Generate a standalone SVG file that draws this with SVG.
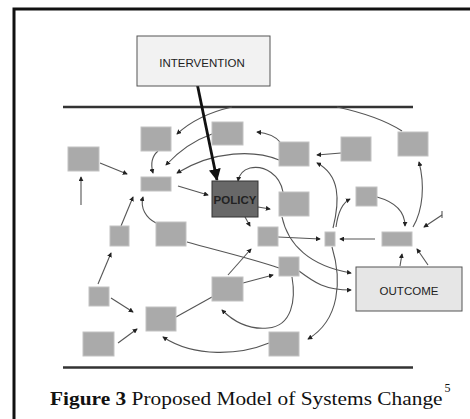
<svg xmlns="http://www.w3.org/2000/svg" width="470" height="419" viewBox="0 0 470 419">
<defs>
<style>
.box{fill:#aaaaaa;stroke:#c2c2c2;stroke-width:1}
.conn path{fill:none;stroke:#555555;stroke-width:1.1}
.conn path.thick{stroke:#111111;stroke-width:2.8;marker-end:url(#big)}
.arr{marker-end:url(#ah)}
.lbl{font-family:"Liberation Sans",Arial,sans-serif;fill:#222;text-anchor:middle}
.rule{stroke:#333;stroke-width:2.5}
</style>
<marker id="ah" viewBox="0 0 6 6" markerUnits="userSpaceOnUse" markerWidth="5" markerHeight="5" refX="5" refY="3" orient="auto">
<path d="M0,0 L6,3 L0,6 z" fill="#222"/>
</marker>
<marker id="big" viewBox="0 0 12 12" markerUnits="userSpaceOnUse" markerWidth="12" markerHeight="12" refX="11" refY="6" orient="auto">
<path d="M0,0 L12,6 L0,12 z" fill="#111"/>
</marker>
</defs>
<rect width="470" height="419" fill="#ffffff"/>
<path d="M14,419 L14,9 L470,9" fill="none" stroke="#111" stroke-width="3"/>
<line class="rule" x1="63" y1="107" x2="413" y2="107"/>
<line class="rule" x1="63" y1="367.5" x2="413" y2="367.5" stroke-width="3"/>

<g id="connectors" class="conn">
<path class="arr" d="M100,163 L127,174"/>
<path class="arr" d="M158,151 C150,158 151,166 153,173"/>
<path class="arr" d="M232,107 C210,112 190,122 177,134"/>
<path class="arr" d="M212,134 C195,140 178,152 166,165"/>
<path class="arr" d="M279,160 C255,150 215,150 177,173"/>
<path class="arr" d="M178,186 L208,195"/>
<path class="arr" d="M121,226 L133,197"/>
<path class="arr" d="M156,223 C146,218 140,208 143,197"/>
<path class="arr" d="M283,192 C280,175 265,165 250,168 C243,170 239,175 238,181"/>
<path class="arr" d="M258,207 L270,209"/>
<path class="arr" d="M245,217 L250,226"/>
<path class="arr" d="M341,153 L317,155"/>
<path class="arr" d="M333,228 C340,200 340,175 317,163"/>
<path class="arr" d="M336,227 C338,212 342,203 350,199"/>
<path class="arr" d="M280,142 C275,136 267,133 257,132"/>
<path class="arr" d="M413,227 C423,210 425,185 419,162"/>
<path d="M402,131 C385,120 360,112 337,107"/>
<path class="arr" d="M377,197 C395,202 405,212 405,226"/>
<path class="arr" d="M442,215 L424,227"/>
<path d="M442,211 L442,218"/>
<path class="arr" d="M375,239 L340,239"/>
<path class="arr" d="M278,237 L320,239"/>
<path class="arr" d="M400,266 L402,254"/>
<path class="arr" d="M428,265 L417,249"/>
<path class="arr" d="M282,217 C288,245 310,266 351,273"/>
<path class="arr" d="M299,271 C315,283 325,290 351,290"/>
<path class="arr" d="M243,283 L273,275"/>
<path class="arr" d="M228,275 L251,249"/>
<path d="M187,242 C215,250 250,258 279,268"/>
<path d="M176,317 L212,297"/>
<path class="arr" d="M111,298 L133,312"/>
<path class="arr" d="M118,343 L137,329"/>
<path class="arr" d="M98,284 L111,253"/>
<path class="arr" d="M269,343 C240,355 195,358 163,337"/>
<path class="arr" d="M292,277 C296,300 292,326 268,328 C248,330 232,320 222,310"/>
<path class="arr" d="M332,247 C342,280 340,320 308,339"/>
<path class="arr" d="M81,205 L81,177"/>
<path class="thick" d="M197,83 L217,180"/>
</g>

<g id="intervention">
<rect x="137" y="36" width="133" height="50" fill="#f2f2f2" stroke="#555" stroke-width="1"/>
<text class="lbl" x="202" y="67" font-size="11.5">INTERVENTION</text>
</g>
<g id="outcome">
<rect x="356" y="267" width="106" height="44" fill="#e6e6e6" stroke="#555" stroke-width="1"/>
<text class="lbl" x="409" y="294.5" font-size="11.5">OUTCOME</text>
</g>
<g id="policy">
<rect x="212" y="181" width="46" height="36" fill="#686868" stroke="#333" stroke-width="1"/>
<text class="lbl" x="235" y="203.5" font-size="11.5" font-weight="bold" fill="#1a1a1a">POLICY</text>
</g>
<g id="nA"><rect class="box" x="68" y="147" width="31" height="24"/></g>
<g id="nB"><rect class="box" x="141" y="127" width="30" height="24"/></g>
<g id="nC"><rect class="box" x="141" y="177" width="30" height="14"/></g>
<g id="nD"><rect class="box" x="212" y="122" width="31" height="23"/></g>
<g id="nE"><rect class="box" x="279" y="142" width="30" height="24"/></g>
<g id="nF"><rect class="box" x="341" y="137" width="30" height="24"/></g>
<g id="nG"><rect class="box" x="398" y="132" width="30" height="24"/></g>
<g id="nH"><rect class="box" x="279" y="192" width="30" height="24"/></g>
<g id="nI"><rect class="box" x="356" y="187" width="21" height="19"/></g>
<g id="nJ"><rect class="box" x="258" y="227" width="20" height="19"/></g>
<g id="nK"><rect class="box" x="325" y="232" width="10" height="14"/></g>
<g id="nL"><rect class="box" x="382" y="232" width="30" height="14"/></g>
<g id="nM"><rect class="box" x="279" y="257" width="20" height="19"/></g>
<g id="nN"><rect class="box" x="269" y="332" width="30" height="24"/></g>
<g id="nO"><rect class="box" x="212" y="277" width="31" height="24"/></g>
<g id="nP"><rect class="box" x="110" y="226" width="19" height="20"/></g>
<g id="nQ"><rect class="box" x="156" y="222" width="30" height="24"/></g>
<g id="nR"><rect class="box" x="89" y="287" width="20" height="19"/></g>
<g id="nS"><rect class="box" x="146" y="307" width="30" height="24"/></g>
<g id="nT"><rect class="box" x="83" y="332" width="31" height="24"/></g>

<g id="caption" font-family="'Liberation Serif','Times New Roman',serif" fill="#111">
<text transform="translate(50,405) scale(1.125,1)" font-size="19"><tspan font-weight="bold">Figure 3</tspan> Proposed Model of Systems Change</text>
<text x="444.5" y="392" font-size="12">5</text>
</g>
</svg>
